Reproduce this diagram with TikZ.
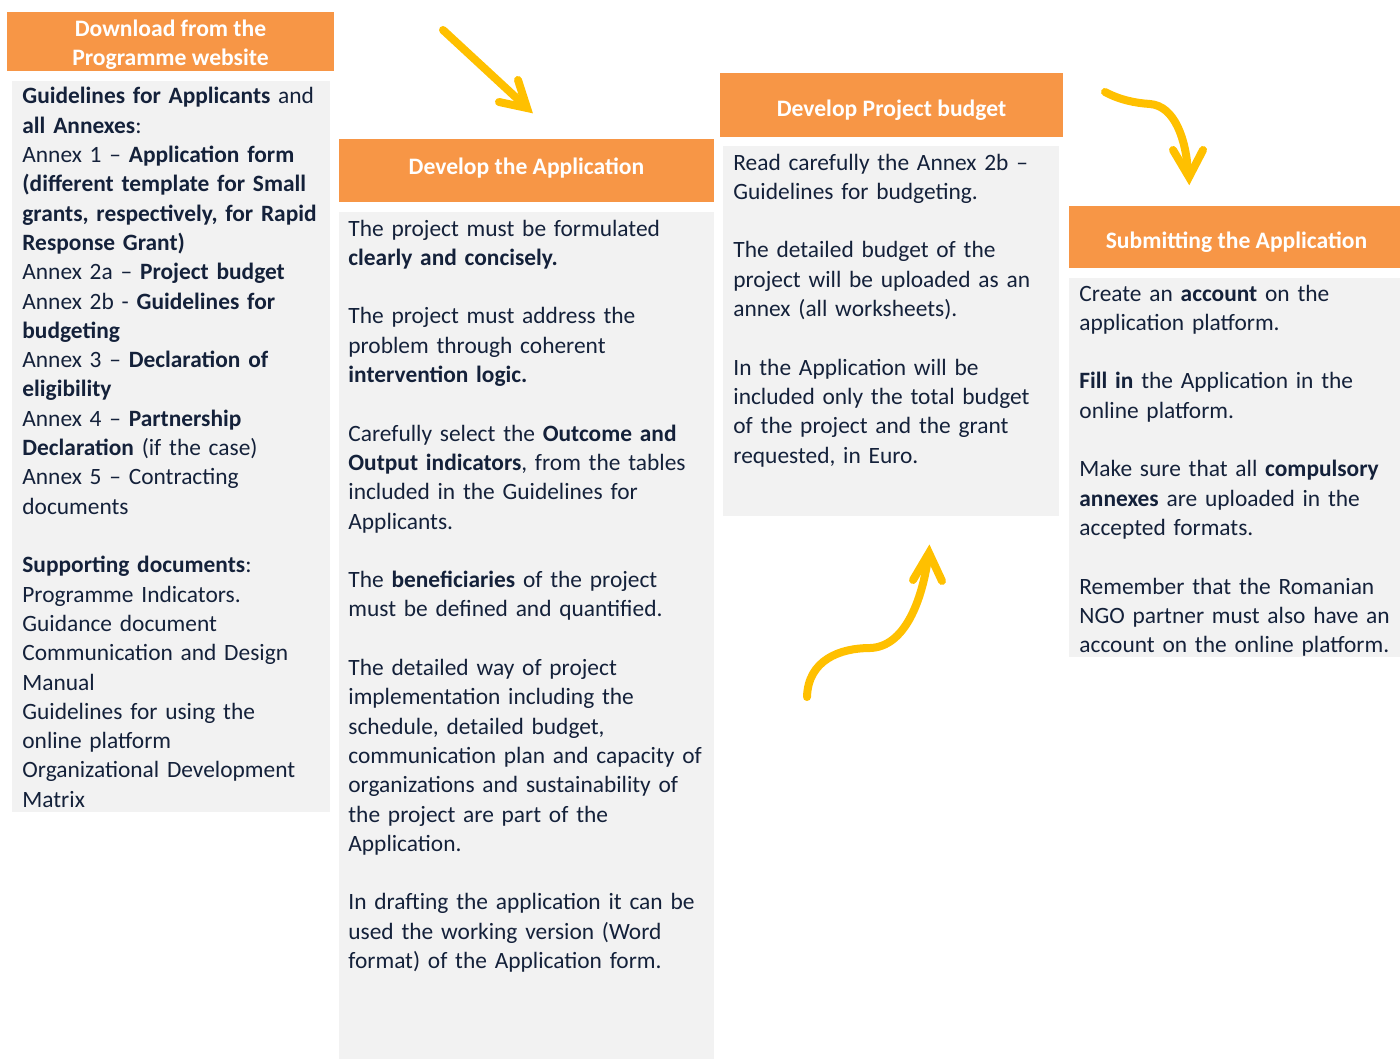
\documentclass[tikz,border=0pt]{standalone}
\usepackage{fontspec}
\setmainfont{Carlito}
\usetikzlibrary{positioning}
\definecolor{hdrorange}{HTML}{F79646}
\definecolor{bodygray}{HTML}{F2F2F2}
\definecolor{txtnavy}{HTML}{14213A}
\definecolor{arrowgold}{HTML}{FFC000}
\tikzset{
  hdr/.style={fill=hdrorange, draw=none, inner sep=0pt},
  hdrtext/.style={text=white, font=\fontsize{11.8}{14.65}\selectfont\bfseries, align=center, inner sep=0pt, anchor=base},
  bodybox/.style={fill=bodygray, draw=none, inner sep=0pt},
  bodytext/.style={text=txtnavy, font=\fontsize{11.7}{14.65}\selectfont, align=left, text width=190pt, inner sep=0pt, anchor=base west},
  goldline/.style={draw=arrowgold, line width=4pt, line cap=round, line join=round},
  goldhead/.style={draw=arrowgold, line width=4pt, line cap=round, line join=miter}
}
\begin{document}
\begin{tikzpicture}[x=0.5pt,y=-0.5pt]
\useasboundingbox (0,0) rectangle (1400,1059);

% gray bodies
\node[bodybox, minimum width=159pt, minimum height=365.5pt, anchor=north west] (b1) at (12,81) {};
\node[bodybox, minimum width=187.5pt, minimum height=423.5pt, anchor=north west] (b2) at (339,212) {};
\node[bodybox, minimum width=168pt, minimum height=185pt, anchor=north west] (b3) at (723,146) {};
\node[bodybox, minimum width=165.5pt, minimum height=189.5pt, anchor=north west] (b4) at (1069,278) {};

% headers
\node[hdr, minimum width=163.5pt, minimum height=29.5pt, anchor=north west] (h1) at (7,12) {};
\node[hdr, minimum width=187.5pt, minimum height=31.5pt, anchor=north west] (h2) at (339,139) {};
\node[hdr, minimum width=171.5pt, minimum height=32pt, anchor=north west] (h3) at (720,73) {};
\node[hdr, minimum width=165.5pt, minimum height=31pt, anchor=north west] (h4) at (1069,206) {};
\node[hdrtext] (h1a) at (170.5,37) {Download from the};
\node[hdrtext] (h1b) at (170.5,66) {Programme website};
\node[hdrtext] (h2t) at (526.5,175) {Develop the Application};
\node[hdrtext] (h3t) at (891.5,117) {Develop Project budget};
\node[hdrtext] (h4t) at (1236.5,249) {Submitting the Application};

% body texts
\node[bodytext] (t1) at (22,104) {%
\textbf{Guidelines for Applicants} and\\
\textbf{all Annexes}:\\
Annex 1 – \textbf{Application form}\\
\textbf{(different template for Small}\\
\textbf{grants, respectively, for Rapid}\\
\textbf{Response Grant)}\\
Annex 2a – \textbf{Project budget}\\
Annex 2b - \textbf{Guidelines for}\\
\textbf{budgeting}\\
Annex 3 – \textbf{Declaration of}\\
\textbf{eligibility}\\
Annex 4 – \textbf{Partnership}\\
\textbf{Declaration} (if the case)\\
Annex 5 – Contracting\\
documents\\[14.65pt]
\textbf{Supporting documents}:\\
Programme Indicators.\\
Guidance document\\
Communication and Design\\
Manual\\
Guidelines for using the\\
online platform\\
Organizational Development\\
Matrix};

\node[bodytext] (t2) at (348,236) {%
The project must be formulated\\
\textbf{clearly and concisely.}\\[14.65pt]
The project must address the\\
problem through coherent\\
\textbf{intervention logic.}\\[14.65pt]
Carefully select the \textbf{Outcome and}\\
\textbf{Output indicators}, from the tables\\
included in the Guidelines for\\
Applicants.\\[14.65pt]
The \textbf{beneficiaries} of the project\\
must be defined and quantified.\\[14.65pt]
The detailed way of project\\
implementation including the\\
schedule, detailed budget,\\
communication plan and capacity of\\
organizations and sustainability of\\
the project are part of the\\
Application.\\[14.65pt]
In drafting the application it can be\\
used the working version (Word\\
format) of the Application form.};

\node[bodytext] (t3) at (733,170) {%
Read carefully the Annex 2b –\\
Guidelines for budgeting.\\[14.65pt]
The detailed budget of the\\
project will be uploaded as an\\
annex (all worksheets).\\[14.65pt]
In the Application will be\\
included only the total budget\\
of the project and the grant\\
requested, in Euro.};

\node[bodytext] (t4) at (1079,301) {%
Create an \textbf{account} on the\\
application platform.\\[14.65pt]
\textbf{Fill in} the Application in the\\
online platform.\\[14.65pt]
Make sure that all \textbf{compulsory}\\
\textbf{annexes} are uploaded in the\\
accepted formats.\\[14.65pt]
Remember that the Romanian\\
NGO partner must also have an\\
account on the online platform.};

% arrow 1 (straight)
\coordinate (a1s) at (443,30);
\coordinate (a1t) at (527,108);
\coordinate (a1e) at (523,104);
\coordinate (a1l) at (499,102);
\coordinate (a1r) at (518,80);
\draw[goldline] (a1s) -- (a1e);
\draw[goldhead] (a1l) -- (a1t) -- (a1r);

% arrow 2 (top right, curving down)
\coordinate (a2s) at (1105,92);
\coordinate (a2m) at (1150,104);
\coordinate (a2e) at (1188,172);
\coordinate (a2t) at (1189,177);
\coordinate (a2l) at (1173,150);
\coordinate (a2r) at (1203,150);
\draw[goldline] (a2s) .. controls (1120,100) and (1135,103) .. (a2m) .. controls (1175,106) and (1186,140) .. (a2e);
\draw[goldhead] (a2l) -- (a2t) -- (a2r);

% arrow 3 (bottom, curving up)
\coordinate (a3s) at (807,697);
\coordinate (a3m) at (870,648);
\coordinate (a3e) at (928,558);
\coordinate (a3t) at (929,553);
\coordinate (a3l) at (913,580);
\coordinate (a3r) at (942,581);
\draw[goldline] (a3s) .. controls (808,660) and (840,648) .. (a3m) .. controls (905,647) and (922,600) .. (a3e);
\draw[goldhead] (a3l) -- (a3t) -- (a3r);
\end{tikzpicture}
\end{document}
